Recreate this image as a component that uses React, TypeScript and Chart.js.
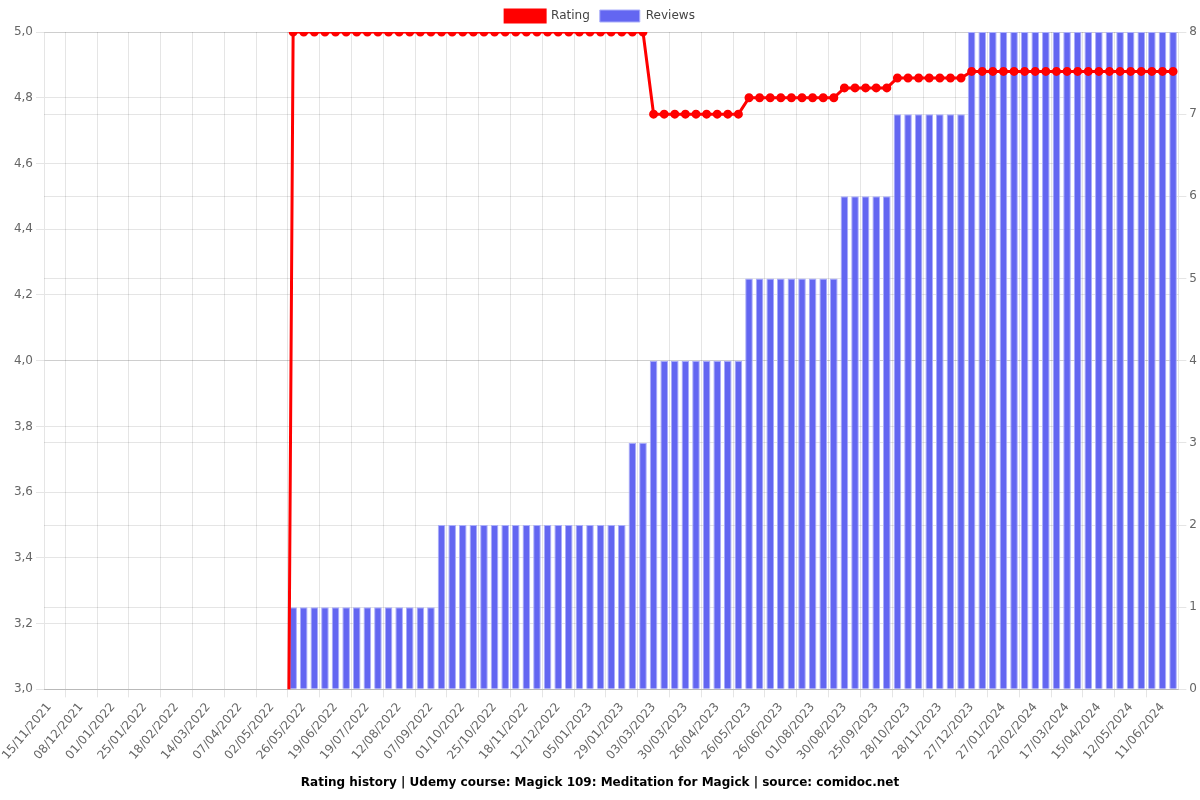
import React, { useEffect, useRef } from "react";
import { Chart, registerables } from "chart.js";

Chart.register(...registerables);

// Visible tick labels (every third category)
const tickLabels: string[] = [
  "15/11/2021", "08/12/2021", "01/01/2022", "25/01/2022", "18/02/2022", "14/03/2022",
  "07/04/2022", "02/05/2022", "26/05/2022", "19/06/2022", "19/07/2022", "12/08/2022",
  "07/09/2022", "01/10/2022", "25/10/2022", "18/11/2022", "12/12/2022", "05/01/2023",
  "29/01/2023", "03/03/2023", "30/03/2023", "26/04/2023", "26/05/2023", "26/06/2023",
  "01/08/2023", "30/08/2023", "25/09/2023", "28/10/2023", "28/11/2023", "27/12/2023",
  "27/01/2024", "22/02/2024", "17/03/2024", "15/04/2024", "12/05/2024", "11/06/2024",
];

const CATEGORY_COUNT = 107;

const rating: number[] = [
  0, 0, 0, 0, 0, 0, 0, 0, 0, 0, 0, 0, 0, 0, 0, 0, 0, 0, 0, 0, 0, 0, 0,
  5, 5, 5, 5, 5, 5, 5, 5, 5, 5, 5, 5, 5, 5, 5, 5, 5, 5, 5, 5, 5, 5, 5, 5, 5, 5, 5, 5, 5, 5, 5, 5, 5, 5,
  4.75, 4.75, 4.75, 4.75, 4.75, 4.75, 4.75, 4.75, 4.75,
  4.8, 4.8, 4.8, 4.8, 4.8, 4.8, 4.8, 4.8, 4.8,
  4.83, 4.83, 4.83, 4.83, 4.83,
  4.86, 4.86, 4.86, 4.86, 4.86, 4.86, 4.86,
  4.88, 4.88, 4.88, 4.88, 4.88, 4.88, 4.88, 4.88, 4.88, 4.88,
  4.88, 4.88, 4.88, 4.88, 4.88, 4.88, 4.88, 4.88, 4.88, 4.88,
];

const reviews: number[] = [
  0, 0, 0, 0, 0, 0, 0, 0, 0, 0, 0, 0, 0, 0, 0, 0, 0, 0, 0, 0, 0, 0, 0,
  1, 1, 1, 1, 1, 1, 1, 1, 1, 1, 1, 1, 1, 1,
  2, 2, 2, 2, 2, 2, 2, 2, 2, 2, 2, 2, 2, 2, 2, 2, 2, 2,
  3, 3,
  4, 4, 4, 4, 4, 4, 4, 4, 4,
  5, 5, 5, 5, 5, 5, 5, 5, 5,
  6, 6, 6, 6, 6,
  7, 7, 7, 7, 7, 7, 7,
  8, 8, 8, 8, 8, 8, 8, 8, 8, 8,
  8, 8, 8, 8, 8, 8, 8, 8, 8, 8,
];

const titleText =
  "Rating history | Udemy course: Magick 109: Meditation for Magick | source: comidoc.net";

export default function App() {
  const canvasRef = useRef<HTMLCanvasElement | null>(null);

  useEffect(() => {
    if (!canvasRef.current) return;
    Chart.defaults.font.family = "'DejaVu Sans', sans-serif";
    Chart.defaults.font.size = 12;
    const labels: string[] = [];
    for (let i = 0; i < CATEGORY_COUNT; i++) {
      labels.push(i % 3 === 0 ? tickLabels[i / 3] ?? "" : "");
    }
    const gridColor = "rgba(0,0,0,0.1)";
    const chart = new Chart(canvasRef.current, {
      type: "bar",
      data: {
        labels,
        datasets: [
          {
            type: "line",
            label: "Rating",
            data: rating,
            yAxisID: "y",
            borderColor: "#ff0000",
            backgroundColor: "#ff0000",
            borderWidth: 3,
            pointRadius: 3,
            pointBackgroundColor: "#ff0000",
            pointBorderColor: "#ff0000",
            tension: 0,
            fill: false,
          } as any,
          {
            type: "bar",
            label: "Reviews",
            data: reviews,
            yAxisID: "y1",
            backgroundColor: "#6366f1",
            borderColor: "rgba(170,174,250,1)",
            borderWidth: 1,
          },
        ],
      },
      options: {
        animation: false,
        responsive: true,
        maintainAspectRatio: false,
        plugins: {
          legend: {
            position: "top",
            labels: { color: "#444" },
          },
          title: {
            display: true,
            text: titleText,
            position: "bottom",
            color: "#000",
            font: { weight: "bold", size: 12 },
          },
          tooltip: { enabled: false },
        },
        scales: {
          x: {
            grid: {
              offset: true,
              color: (ctx: any) => (ctx.index % 3 === 2 ? gridColor : "rgba(0,0,0,0)"),
            },
            ticks: {
              autoSkip: false,
              minRotation: 50,
              maxRotation: 50,
              color: "#666",
            },
          },
          y: {
            position: "left",
            min: 3,
            max: 5,
            afterFit: (scale: any) => {
              scale.width = 44;
            },
            ticks: {
              stepSize: 0.2,
              color: "#666",
              callback: (v: any) => Number(v).toFixed(1).replace(".", ","),
            },
          },
          y1: {
            position: "right",
            min: 0,
            max: 8,
            ticks: { stepSize: 1, color: "#666" },
          },
        },
      },
    });
    return () => chart.destroy();
  }, []);

  return (
    <div style={{ position: "absolute", left: 0, top: 0, width: 1200, height: 800 }}>
      <canvas ref={canvasRef} />
    </div>
  );
}
